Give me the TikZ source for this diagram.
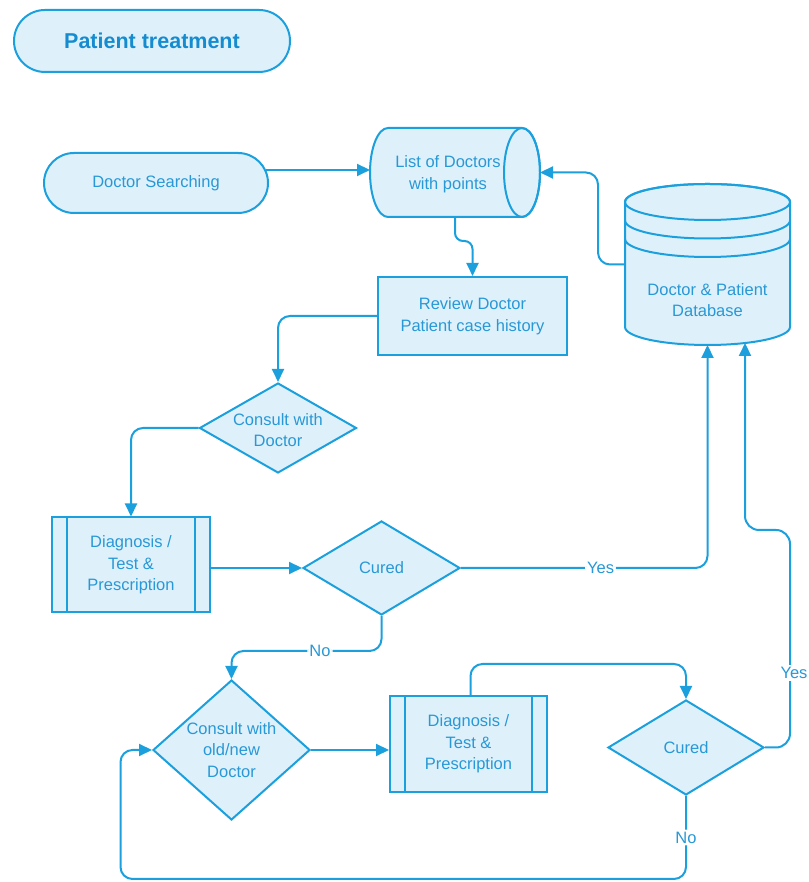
\documentclass[tikz,border=0pt]{standalone}
\usepackage{fontspec}
\setmainfont{Liberation Sans}
\usetikzlibrary{shapes.geometric,arrows.meta,calc}
\definecolor{flowline}{RGB}{28,160,221}
\definecolor{flowfill}{RGB}{222,241,251}
\definecolor{flowtext}{RGB}{40,152,214}
\definecolor{titletext}{RGB}{22,140,208}

\begin{document}
\begin{tikzpicture}[x=1pt,y=1pt,
  every node/.style={font=\fontsize{16.5}{21.5}\selectfont, text=flowtext, align=center},
  outline/.style={draw=flowline, line width=2pt, fill=flowfill},
  stadium/.style={outline, rectangle, inner sep=0pt},
  procbox/.style={outline, rectangle, inner sep=0pt},
  decision/.style={outline, diamond, inner sep=0pt},
  anchorbox/.style={rectangle, draw=none, inner sep=0pt, outer sep=0pt},
  edge line/.style={draw=flowline, line width=2pt},
  conn/.style={edge line, rounded corners=12pt, -{Triangle[length=13pt,width=12pt]}},
  lbl/.style={fill=white, inner sep=2pt}
]
\useasboundingbox (0,0) rectangle (808,882);
\fill[white] (0,0) rectangle (808,882);

% title and start terminal
\node[stadium, rounded corners=31pt, minimum width=276pt, minimum height=62pt,
      font=\bfseries\fontsize{21.5}{24}\selectfont, text=titletext] (title) at (152,841) {Patient treatment};
\node[stadium, rounded corners=30pt, minimum width=224pt, minimum height=60pt] (ds) at (156,699) {Doctor Searching};

% horizontal cylinder: list of doctors
\node[anchorbox, minimum width=170pt, minimum height=89pt] (list) at (455,709.5) {};
\path[outline] (388,754) -- (522,754)
   arc[start angle=90, end angle=-90, x radius=18, y radius=44.5]
   -- (388,665)
   arc[start angle=270, end angle=90, x radius=18, y radius=44.5] -- cycle;
\draw[edge line] (522,709.5) ellipse[x radius=18, y radius=44.5];
\node (listtxt) at (448,708) {List of Doctors\\with points};

% database cylinder
\node[anchorbox, minimum width=165pt, minimum height=161pt] (db) at (707.5,617.5) {};
\path[outline] (625,680) -- (625,555)
   arc[start angle=180, end angle=360, x radius=82.5, y radius=18]
   -- (790,680)
   arc[start angle=0, end angle=180, x radius=82.5, y radius=18] -- cycle;
\draw[edge line] (707.5,680) ellipse[x radius=82.5, y radius=18];
\draw[edge line] (625,661.5) arc[start angle=180, end angle=360, x radius=82.5, y radius=18];
\draw[edge line] (625,643) arc[start angle=180, end angle=360, x radius=82.5, y radius=18];
\node (dbtxt) at (707.5,582) {Doctor \& Patient\\Database};

% process steps
\node[procbox, minimum width=189pt, minimum height=78pt] (review) at (472.5,566) {Review Doctor\\Patient case history};
\node[decision, minimum width=157pt, minimum height=90pt] (consult) at (278,454) {};
\node (consulttxt) at (278,452) {Consult with\\Doctor};

\node[procbox, minimum width=158pt, minimum height=95pt] (diagA) at (131,317) {Diagnosis /\\Test \&\\Prescription};
\draw[edge line] ([xshift=16pt]diagA.north west) -- ([xshift=16pt]diagA.south west);
\draw[edge line] ([xshift=-16pt]diagA.north east) -- ([xshift=-16pt]diagA.south east);

\node[decision, minimum width=157pt, minimum height=94pt] (curedA) at (381.5,314) {};
\node (curedAtxt) at (381.5,314) {Cured};

\node[decision, minimum width=157pt, minimum height=140pt] (consultB) at (231.5,132) {};
\node (consultBtxt) at (231.5,132) {Consult with\\old/new\\Doctor};

\node[procbox, minimum width=157pt, minimum height=96pt] (diagB) at (468.5,138) {Diagnosis /\\Test \&\\Prescription};
\draw[edge line] ([xshift=16pt]diagB.north west) -- ([xshift=16pt]diagB.south west);
\draw[edge line] ([xshift=-16pt]diagB.north east) -- ([xshift=-16pt]diagB.south east);

\node[decision, minimum width=156pt, minimum height=95pt] (curedB) at (686,134.5) {};
\node (curedBtxt) at (686,134.5) {Cured};

% connectors
\draw[conn] ([shift={(-3pt,13pt)}]ds.east) -- ([yshift=2.5pt]list.west);
\draw[conn] (db.west) -- ++(-27,0) |- (list.east);
\draw[conn, rounded corners=8pt] (list.south) -- ++(0,-24) -| (review.north);
\draw[conn] (review.west) -| (consult.north);
\draw[conn] (consult.west) -| (diagA.north);
\draw[conn] (diagA.east |- curedA.west) -- (curedA.west);
\draw[conn] (curedA.east) -| node[lbl, pos=0.283] {Yes} (db.south);
\draw[conn] (curedA.south) -- ++(0,-35) -| node[lbl, pos=0.205] {No} (consultB.north);
\draw[conn] (consultB.east) -- (consultB.east -| diagB.west);
\draw[conn] ([xshift=2pt]diagB.north) -- ++(0,31) -| (curedB.north);
\draw[conn, rounded corners=14pt] (curedB.east) -| (790,352) -| ($(db.south)+(37.5,2)$);
\node[lbl] (yesB) at (794,209) {Yes};
\draw[conn] (curedB.south) -- node[lbl] (noB) {No} ++(0,-83) -| ($(consultB.west)+(-31.5,0)$) -- (consultB.west);
\end{tikzpicture}
\end{document}
